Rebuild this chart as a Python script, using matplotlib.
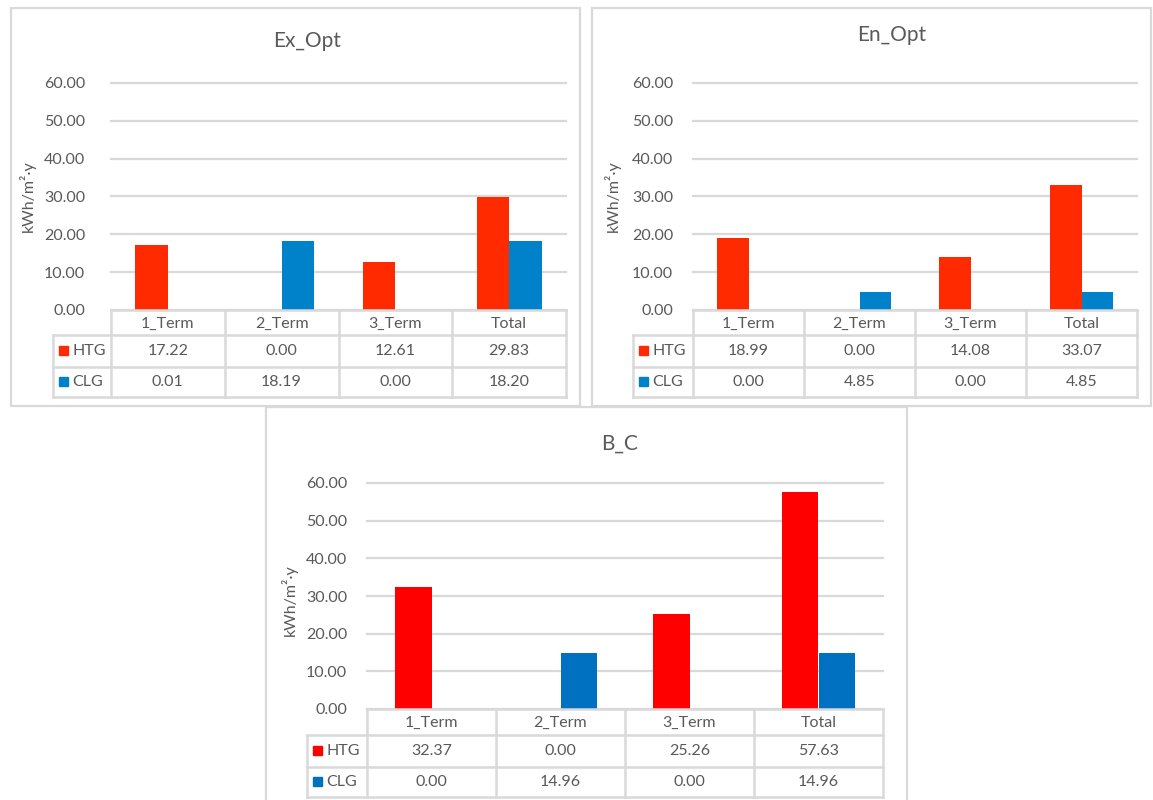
import matplotlib
matplotlib.use("Agg")
import matplotlib.pyplot as plt
from matplotlib.patches import Rectangle

plt.rcParams['font.family'] = ['Lato', 'DejaVu Sans']

W, H = 1153, 800

categories = ["1_Term", "2_Term", "3_Term", "Total"]
series_names = ["HTG", "CLG"]
yticks = [0, 10, 20, 30, 40, 50, 60]

ex_opt_htg = [17.22, 0.00, 12.61, 29.83]
ex_opt_clg = [0.01, 18.19, 0.00, 18.20]
en_opt_htg = [18.99, 0.00, 14.08, 33.07]
en_opt_clg = [0.00, 4.85, 0.00, 4.85]
b_c_htg = [32.37, 0.00, 25.26, 57.63]
b_c_clg = [0.00, 14.96, 0.00, 14.96]

TEXT = "#595959"
GRID = "#D9D9D9"

panels = [
    dict(title="Ex_Opt", htg=ex_opt_htg, clg=ex_opt_clg,
         colors=("#FF2A00", "#0082CA"),
         frame=(11, 8, 580, 406), left=111, right=566, top=83, zero=310,
         leg_left=53, rows=(25, 32, 30), title_xy=(307, 41),
         ylab_xy=(27, 196), tick_pad=26),
    dict(title="En_Opt", htg=en_opt_htg, clg=en_opt_clg,
         colors=("#FF2A00", "#0082CA"),
         frame=(592, 8, 1151, 406), left=693, right=1137, top=83, zero=310,
         leg_left=633, rows=(25, 32, 30), title_xy=(892, 35),
         ylab_xy=(612, 196), tick_pad=20),
    dict(title="B_C", htg=b_c_htg, clg=b_c_clg,
         colors=("#FF0000", "#0070C0"),
         frame=(266, 407, 907, 805), left=367, right=883, top=483, zero=709,
         leg_left=307, rows=(26, 32, 30), title_xy=(620, 444),
         ylab_xy=(289, 600), tick_pad=20),
]

fig = plt.figure(figsize=(W / 100, H / 100), dpi=100)
fig.patch.set_facecolor("white")


def fx(x):
    return x / W


def fy(y):
    return 1 - y / H


bar_w = 0.285
FS = 11.5

for p in panels:
    x0, y0, x1, y1 = p["frame"]
    fig.patches.append(Rectangle((fx(x0), fy(y1)), fx(x1 - x0), (y1 - y0) / H,
                                 transform=fig.transFigure, fill=False,
                                 edgecolor=GRID, linewidth=1.6, zorder=0))

    left, right, top, zero = p["left"], p["right"], p["top"], p["zero"]
    ax = fig.add_axes([fx(left), fy(zero), fx(right - left), (zero - top) / H])
    xs = list(range(len(categories)))
    ax.bar([x - bar_w / 2 for x in xs], p["htg"], width=bar_w,
           color=p["colors"][0], zorder=3)
    ax.bar([x + bar_w / 2 for x in xs], p["clg"], width=bar_w,
           color=p["colors"][1], zorder=3)
    ax.set_xlim(-0.5, 3.5)
    ax.set_ylim(0, 60)
    ax.set_yticks(yticks)
    ax.set_yticklabels([f"{v:.2f}" for v in yticks])
    ax.set_xticks([])
    ax.tick_params(axis="y", length=0, pad=p["tick_pad"] * 0.72,
                   labelsize=FS, labelcolor=TEXT)
    ax.yaxis.grid(True, color=GRID, linewidth=1.6)
    for gl in ax.get_ygridlines():
        gl.set_clip_on(False)
    ax.set_axisbelow(True)
    for s in ax.spines.values():
        s.set_visible(False)
    ax.patch.set_alpha(0)

    fig.text(fx(p["title_xy"][0]), fy(p["title_xy"][1]), p["title"],
             ha="center", va="center", fontsize=15, color=TEXT)
    fig.text(fx(p["ylab_xy"][0]), fy(p["ylab_xy"][1]), "kWh/m²·y",
             ha="center", va="center", rotation=90, fontsize=FS, color=TEXT)

    # data table under the plot area
    h0, h1, h2 = p["rows"]
    total = h0 + h1 + h2
    cw = (right - left) / 4
    leg_w = left - p["leg_left"]
    xl = -0.5 - leg_w / cw
    tax = fig.add_axes([fx(p["leg_left"]), fy(zero + total),
                        fx(right - p["leg_left"]), total / H])
    tax.set_xlim(xl, 3.5)
    tax.set_ylim(total, 0)
    tax.axis("off")
    lk = dict(color=GRID, linewidth=1.8, clip_on=False, solid_capstyle="projecting")
    tax.plot([-0.5, 3.5], [0, 0], **lk)
    for yy in (h0, h0 + h1, total):
        tax.plot([xl, 3.5], [yy, yy], **lk)
    tax.plot([xl, xl], [h0, total], **lk)
    for xx in (-0.5, 0.5, 1.5, 2.5, 3.5):
        tax.plot([xx, xx], [0, total], **lk)
    for i, c in enumerate(categories):
        tax.text(i, h0 / 2 + 1, c, ha="center", va="center", fontsize=FS, color=TEXT)
    row_centers = (h0 + h1 / 2, h0 + h1 + h2 / 2)
    for name, vals, col, yc in zip(series_names, (p["htg"], p["clg"]),
                                   p["colors"], row_centers):
        tax.plot([xl + 9.5 / cw], [yc - 1], marker="s", markersize=9 * 0.72,
                 color=col, linestyle="none", clip_on=False)
        tax.text(xl + 19 / cw, yc, name, ha="left", va="center",
                 fontsize=FS, color=TEXT)
        for i, v in enumerate(vals):
            tax.text(i, yc, f"{v:.2f}", ha="center", va="center",
                     fontsize=FS, color=TEXT)

fig.savefig("out.png", dpi=100, facecolor="white")
